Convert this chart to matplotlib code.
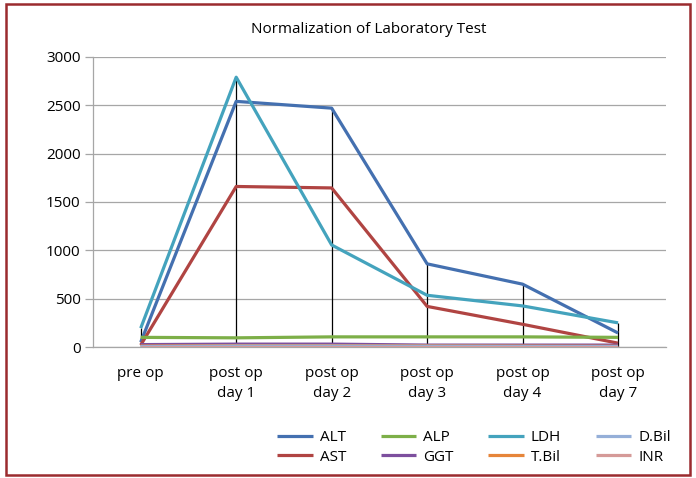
import numpy as np
import matplotlib
matplotlib.use("Agg")
import matplotlib.pyplot as plt
from matplotlib.patches import Rectangle

plt.rcParams["font.family"] = ["Open Sans", "DejaVu Sans"]

categories = ["pre op", "post op\nday 1", "post op\nday 2", "post op\nday 3",
              "post op\nday 4", "post op\nday 7"]

ALT   = [50, 2540, 2470, 860, 650, 145]
AST   = [20, 1660, 1645, 420, 235, 40]
LDH   = [195, 2790, 1055, 535, 425, 250]
ALP   = [100, 95, 105, 105, 105, 100]
GGT   = [25, 30, 30, 20, 20, 20]
DBIL  = [5, 10, 10, 8, 6, 5]
TBIL  = [10, 15, 15, 12, 10, 8]
INR   = [2, 2, 2, 2, 2, 2]

series = [
    ("ALT", ALT, "#4470B0"),
    ("AST", AST, "#B04442"),
    ("ALP", ALP, "#7DAF48"),
    ("GGT", GGT, "#7D4F9E"),
    ("LDH", LDH, "#44A3BD"),
    ("T.Bil", TBIL, "#E6853A"),
    ("D.Bil", DBIL, "#95AFD8"),
    ("INR", INR, "#D59A98"),
]

fig = plt.figure(figsize=(6.96, 4.78), dpi=100)
ax = fig.add_axes([0.1336, 0.274, 0.823, 0.607])

x = np.arange(len(categories))
grid_c = "#A6A6A6"

# drop lines (Excel style)
tops = np.max([s[1] for s in series], axis=0)
ax.vlines(x, 0, tops, color="black", lw=0.9, zorder=2)

handles = {}
for name, vals, col in series:
    h, = ax.plot(x, vals, color=col, lw=2.3, zorder=3, solid_capstyle="butt")
    handles[name] = h

ax.set_xlim(-0.5, len(categories) - 0.5)
ax.set_ylim(0, 3000)
ax.set_yticks(range(0, 3001, 500))
ax.yaxis.grid(True, color=grid_c, lw=0.9)
ax.set_axisbelow(True)
ax.set_xticks(x)
ax.set_xticklabels(categories, fontsize=11, linespacing=1.45)
ax.tick_params(axis="x", length=0, pad=14)
ax.tick_params(axis="y", labelsize=11, length=6, color=grid_c, width=0.9, pad=3)
for sp in ["top", "right"]:
    ax.spines[sp].set_visible(False)
ax.spines["left"].set_color(grid_c)
ax.spines["bottom"].set_color(grid_c)
ax.spines["left"].set_linewidth(0.9)
ax.spines["bottom"].set_linewidth(0.9)

fig.text(0.53, 0.938, "Normalization of Laboratory Test", ha="center",
         va="center", fontsize=11)

order = ["ALT", "AST", "ALP", "GGT", "LDH", "T.Bil", "D.Bil", "INR"]
fig.legend([handles[n] for n in order], order, ncol=4, frameon=False,
           loc="center", bbox_to_anchor=(0.681, 0.064), fontsize=11,
           handlelength=2.35, handletextpad=0.45, columnspacing=2.25,
           labelspacing=0.3, borderpad=0.1)

fig.patches.append(Rectangle((0.009, 0.006), 0.982, 0.985, transform=fig.transFigure,
                             fill=False, edgecolor="#9B2B2E", lw=1.8))

fig.savefig("out.png", dpi=100)
